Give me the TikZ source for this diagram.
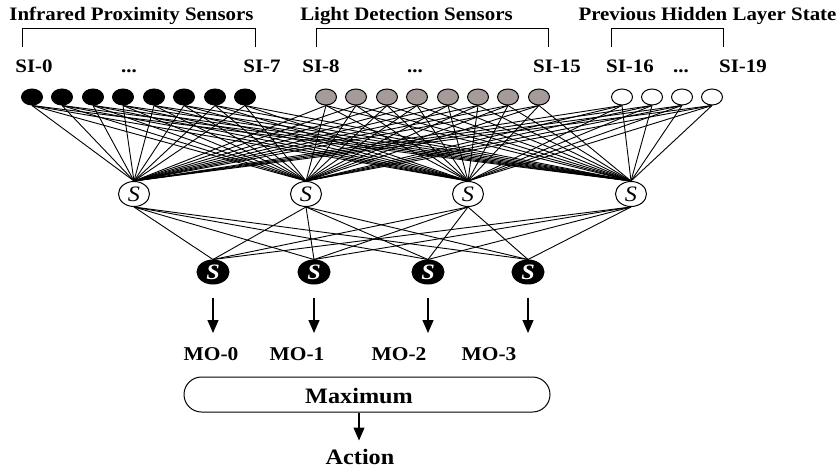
\documentclass[tikz,border=0pt]{standalone}
\usepackage{fontspec}
\setmainfont{Liberation Serif}[FakeStretch=1.1]
\usetikzlibrary{shapes.geometric,arrows.meta}
\definecolor{sensorgray}{RGB}{165,155,152}
\tikzset{
  unit/.style={ellipse, draw, line width=1pt, inner sep=0pt},
  innode/.style={unit, minimum width=21pt, minimum height=16pt},
  hidnode/.style={unit, fill=white, minimum width=31pt, minimum height=25pt,
    font=\fontsize{22}{22}\selectfont\itshape},
  outnode/.style={unit, fill=black, text=white, minimum width=32pt, minimum height=24pt,
    font=\fontsize{22}{22}\selectfont\bfseries\itshape},
  lbl/.style={anchor=base, inner sep=0pt, font=\fontsize{19}{21}\selectfont\bfseries},
  biglbl/.style={anchor=base, inner sep=0pt, font=\fontsize{22}{24}\selectfont\bfseries},
  bracket/.style={line width=1pt},
  link/.style={line width=0.9pt},
  outarrow/.style={line width=1.2pt, -{Triangle[width=11pt,length=13pt]}},
}
\begin{document}
\begin{tikzpicture}[x=1pt, y=-1pt]
\useasboundingbox (0,0) rectangle (840,471);
% sensor groups
\node[lbl] (grpir) at (131.5,20) {Infrared Proximity Sensors};
\node[lbl] (grplight) at (406.5,20) {Light Detection Sensors};
\node[lbl] (grpprev) at (707.5,20) {Previous Hidden Layer State};
\draw[bracket] (22,47) -- (22,28) -- (255,28) -- (255,47);
\draw[bracket] (316,47) -- (316,28) -- (548,28) -- (548,47);
\draw[bracket] (611,47) -- (611,28) -- (723,28) -- (723,47);
% input labels
\node[lbl] (si0) at (34,72) {SI-0};
\node[lbl] (dotsir) at (129,72) {...};
\node[lbl] (si7) at (262,72) {SI-7};
\node[lbl] (si8) at (321,72) {SI-8};
\node[lbl] (dotslight) at (415,72) {...};
\node[lbl] (si15) at (557,72) {SI-15};
\node[lbl] (si16) at (630,72) {SI-16};
\node[lbl] (dotsprev) at (681,72) {...};
\node[lbl] (si19) at (743,72) {SI-19};
% input units
\foreach \x [count=\i from 0] in {32,62,93,123,154,184,215,245}
  \node[innode, fill=black] (in\i) at (\x,97) {};
\foreach \x [count=\i from 8] in {326,356,387,417,448,478,508,539}
  \node[innode, fill=sensorgray] (in\i) at (\x,97) {};
\foreach \x [count=\i from 16] in {622,652,682,712}
  \node[innode, fill=white] (in\i) at (\x,97) {};
% hidden and output units
\foreach \x [count=\i from 0] in {134,306,468,631}
  \node[hidnode] (h\i) at (\x,194) {S};
\foreach \x [count=\i from 0] in {213,314,428,528}
  \node[outnode] (o\i) at (\x,272) {S};
% connections
\foreach \i in {0,...,19}
  \foreach \j in {0,...,3}
    \draw[link] (in\i.south) -- (h\j.north);
\foreach \i in {0,...,3}
  \foreach \j in {0,...,3}
    \draw[link] (h\i.south) -- (o\j.north);
% outputs
\foreach \x [count=\i from 0] in {213,314,428,528}
  \coordinate (tip\i) at (\x,333);
\foreach \i in {0,...,3}
  \draw[outarrow, shorten <=13pt] (o\i.south) -- (tip\i);
\node[lbl, font=\fontsize{19.5}{21}\selectfont\bfseries] (mo0) at (211,360) {MO-0};
\node[lbl, font=\fontsize{19.5}{21}\selectfont\bfseries] (mo1) at (297,360) {MO-1};
\node[lbl, font=\fontsize{19.5}{21}\selectfont\bfseries] (mo2) at (399,360) {MO-2};
\node[lbl, font=\fontsize{19.5}{21}\selectfont\bfseries] (mo3) at (489,360) {MO-3};
% selection
\node[draw, line width=1pt, rounded corners=17.5pt, minimum width=366pt,
  minimum height=35pt] (max) at (367,394.5) {};
\node[biglbl] (maxtext) at (359,403) {Maximum};
\node[biglbl] (act) at (360,464) {Action};
\draw[outarrow] (maxtext |- max.south) -- ++(0,28) coordinate (acttip);
\end{tikzpicture}
\end{document}
